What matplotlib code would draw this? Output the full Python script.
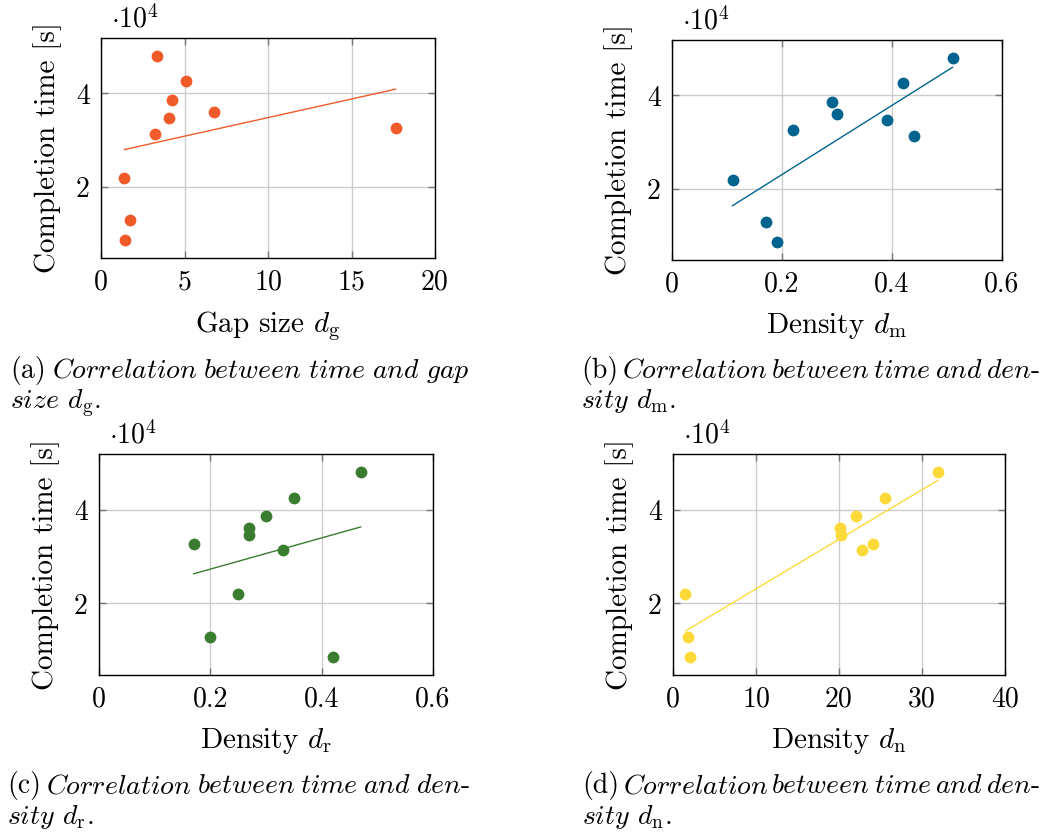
import numpy as np
import matplotlib
matplotlib.use("Agg")
import matplotlib.pyplot as plt

plt.rcParams['font.family'] = 'serif'
plt.rcParams['font.serif'] = ['cmr10']
plt.rcParams['mathtext.fontset'] = 'cm'
plt.rcParams['axes.formatter.use_mathtext'] = True
plt.rcParams['axes.unicode_minus'] = False

# completion time, 1e4 s (same order in every panel)
time_s = [4.80, 4.26, 3.87, 3.47, 3.61, 3.14, 3.26, 2.19, 1.29, 0.86]
# x values per panel
gap_size = [3.38, 5.07, 4.26, 4.08, 6.75, 3.24, 17.64, 1.40, 1.72, 1.42]
dens_m = [0.51, 0.42, 0.29, 0.39, 0.30, 0.44, 0.22, 0.11, 0.17, 0.19]
dens_r = [0.47, 0.35, 0.30, 0.27, 0.27, 0.33, 0.17, 0.25, 0.20, 0.42]
dens_n = [31.9, 25.6, 22.1, 20.2, 20.1, 22.8, 24.1, 1.5, 1.85, 2.1]

colors = ['#F15A29', '#00648F', '#3A7D30', '#FDDA3A']
xlabels = [r'Gap size $d_\mathrm{g}$', r'Density $d_\mathrm{m}$',
           r'Density $d_\mathrm{r}$', r'Density $d_\mathrm{n}$']
xlims = [(0, 20), (0, 0.6), (0, 0.6), (0, 40)]
xticks = [[0, 5, 10, 15, 20], [0, 0.2, 0.4, 0.6], [0, 0.2, 0.4, 0.6], [0, 10, 20, 30, 40]]
xticklabels = [['0', '5', '10', '15', '20'], ['0', '0.2', '0.4', '0.6'],
               ['0', '0.2', '0.4', '0.6'], ['0', '10', '20', '30', '40']]
captions = [
    (['(a)', 'Correlation', 'between', 'time', 'and', 'gap'], r'size $d_\mathrm{g}$.'),
    (['(b)', 'Correlation', 'between', 'time', 'and', 'den-'], r'sity $d_\mathrm{m}$.'),
    (['(c)', 'Correlation', 'between', 'time', 'and', 'den-'], r'sity $d_\mathrm{r}$.'),
    (['(d)', 'Correlation', 'between', 'time', 'and', 'den-'], r'sity $d_\mathrm{n}$.'),
]

W, H = 1047, 833
fig = plt.figure(figsize=(W / 100, H / 100), dpi=100)

# axes boxes in pixels: left, top, right, bottom
boxes = [(101, 38, 435, 258), (672, 40, 1002, 260),
         (99, 454, 433, 675), (673, 454, 1005, 675)]
# caption: left, right, baseline of line 1, baseline of line 2
cap_pos = [(10, 470, 378, 408), (581, 1040, 378, 408),
           (7, 470, 793, 824), (582, 1040, 793, 824)]

xs = [gap_size, dens_m, dens_r, dens_n]
FS = 20
CFS = 20

for i in range(4):
    l, t, r, b = boxes[i]
    ax = fig.add_axes([l / W, 1 - b / H, (r - l) / W, (b - t) / H])
    x = np.array(xs[i])
    y = np.array(time_s)
    k, c0 = np.polyfit(x, y, 1)
    xx = np.array([x.min(), x.max()])
    ax.plot(xx, k * xx + c0, color=colors[i], lw=1.0, zorder=2)
    ax.plot(x, y, 'o', color=colors[i], ms=8.5, mec='none', zorder=3)
    ax.set_xlim(*xlims[i])
    ax.set_ylim(0.47, 5.19)
    ax.set_xticks(xticks[i])
    ax.set_xticklabels(xticklabels[i])
    ax.set_yticks([2, 4])
    ax.set_yticklabels(['2', '4'])
    ax.grid(True, color='#cccccc', lw=1.0)
    ax.set_axisbelow(True)
    ax.tick_params(direction='in', length=5, width=1.0, color='#777777',
                   top=True, right=True, labelsize=FS, pad=8)
    for s in ax.spines.values():
        s.set_linewidth(1.0)
    ax.set_xlabel(xlabels[i], fontsize=FS + 1, labelpad=10)
    ax.set_ylabel('Completion time [s]', fontsize=FS + 1, labelpad=10)
    ax.text(0.03, 1.02, r'$\cdot 10^4$', transform=ax.transAxes,
            fontsize=FS, ha='left', va='bottom')

# captions, first line justified
renderer = fig.canvas.get_renderer()
for i in range(4):
    words, line2 = captions[i]
    cl, cr, y1, y2 = cap_pos[i]
    txts = []
    for j, w in enumerate(words):
        if j == 0:
            s = w
        elif w.endswith('-'):
            s = r'$\mathit{' + w[:-1] + '}$-'
        else:
            s = r'$\mathit{' + w + '}$'
        txts.append(fig.text(0, 1 - y1 / H, s, fontsize=CFS, va='baseline', ha='left'))
    widths = [tx.get_window_extent(renderer).width for tx in txts]
    gap = (cr - cl - sum(widths)) / (len(txts) - 1)
    xpos = cl
    for tx, wd in zip(txts, widths):
        tx.set_x(xpos / W)
        xpos += wd + gap
    first, rest = line2.split(' ', 1)
    fig.text(cl / W, 1 - y2 / H, r'$\mathit{' + first + r'}$ ' + rest,
             fontsize=CFS, va='baseline', ha='left')

fig.savefig('out.png', dpi=100)
